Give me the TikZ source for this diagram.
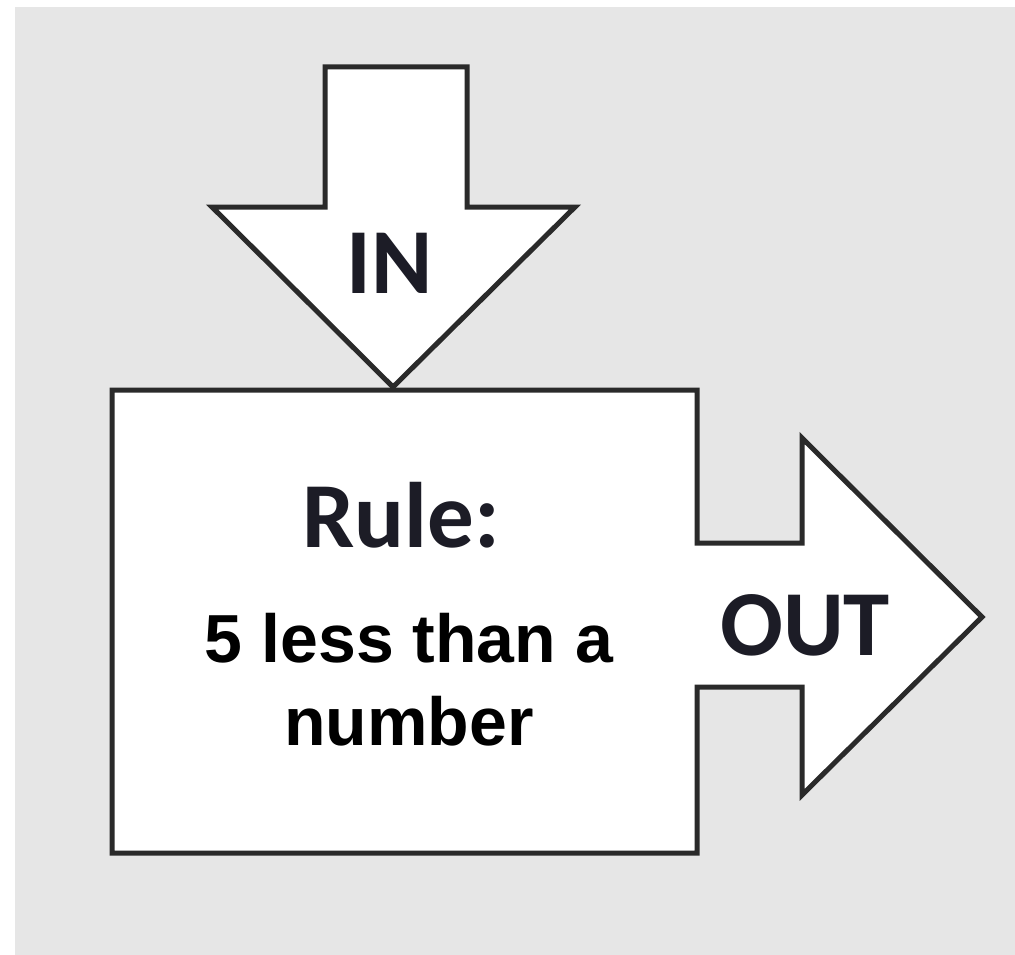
\documentclass[tikz,border=0pt]{standalone}
\usepackage{fontspec}
\newfontfamily\calib{Carlito}
\newfontfamily\arialf{Liberation Sans}
\definecolor{bggray}{HTML}{E6E6E6}
\definecolor{edgegray}{HTML}{2A2A2A}
\definecolor{labelink}{HTML}{1C1C26}
\begin{document}
\begin{tikzpicture}[x=1pt,y=-1pt,
  shapeline/.style={draw=edgegray,line width=5pt,fill=white,line join=miter},
  calabel/.style={inner sep=0pt,anchor=base,text=labelink,font=\calib\bfseries\fontsize{93}{110}\selectfont},
  rulelabel/.style={inner sep=0pt,anchor=base,text=black,font=\arialf\bfseries\fontsize{68}{82}\selectfont}]
\useasboundingbox (0,0) rectangle (1015,955);
\fill[bggray] (15,7) rectangle (1015,955);
% box with OUT arrow
\draw[shapeline] (112,390) -- (697,390) -- (697,543) -- (802,543) -- (802,438)
  -- (982,617) -- (802,795) -- (802,687) -- (697,687) -- (697,853) -- (112,853) -- cycle;
% IN arrow
\draw[shapeline] (325,67) -- (467,67) -- (467,207) -- (575,207) -- (393,387)
  -- (212,207) -- (325,207) -- cycle;
\node[calabel] (inlabel) at (390,293) {IN};
\node[calabel] (rulehead) at (401,547) {Rule:};
\node[calabel] (outlabel) at (805,655) {OUT};
\node[rulelabel] (ruleone) at (409,662) {5 less than a};
\node[rulelabel] (ruletwo) at (409,745) {number};
\end{tikzpicture}
\end{document}
